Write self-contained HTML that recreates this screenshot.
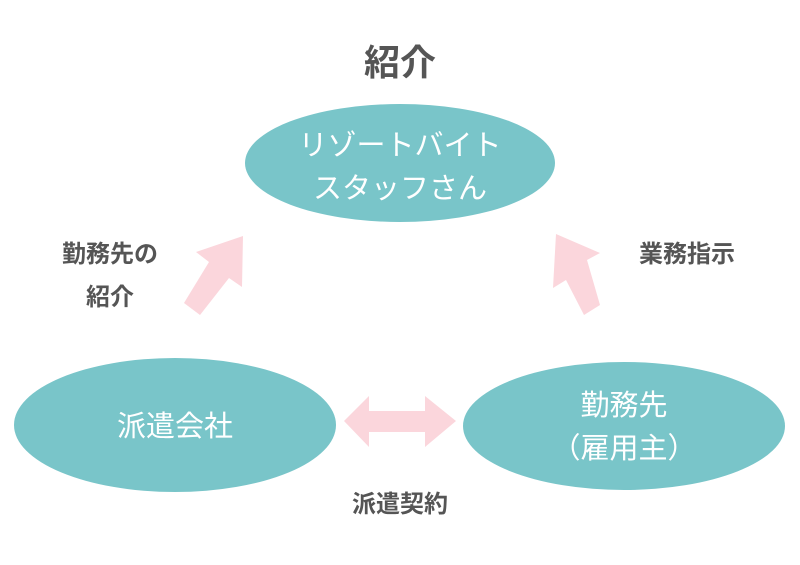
<!DOCTYPE html>
<html><head><meta charset="utf-8"><style>
body{margin:0;background:#fff}
svg text{font-family:"Liberation Sans","Noto Sans CJK JP",sans-serif}
</style></head><body>
<svg width="800" height="560" viewBox="0 0 800 560" xmlns="http://www.w3.org/2000/svg">
<rect width="800" height="560" fill="#fff"/>
<ellipse cx="400" cy="163" rx="155" ry="59" fill="#79c5c9"/>
<ellipse cx="175" cy="425" rx="161" ry="67" fill="#79c5c9"/>
<ellipse cx="624" cy="426" rx="161" ry="64" fill="#79c5c9"/>
<g fill="#fbd6dc">
<polygon points="184,303 200,315 229,278 242,287 243,236 196,252 209,262"/>
<polygon points="600,305 584,315 566,280 553,288 556,234 600,253 587,260"/>
<polygon points="344,421 369,396 369,411 425,411 425,396 456,421 425,447 425,432 369,432 369,447"/>
</g>
<g fill="#555" font-weight="bold" text-anchor="middle">
<text x="400" y="75" font-size="36">紹介</text>
<text x="110" y="262" font-size="24">勤務先の</text>
<text x="110" y="305" font-size="24">紹介</text>
<text x="687" y="262" font-size="24">業務指示</text>
<text x="400" y="512" font-size="24">派遣契約</text>
</g>
<g fill="#fff" font-size="29" text-anchor="middle">
<text x="400" y="155">リゾートバイト</text>
<text x="400" y="198">スタッフさん</text>
<text x="175" y="436">派遣会社</text>
<text x="624" y="415">勤務先</text>
<text x="624" y="458">（雇用主）</text>
</g>
</svg>
</body></html>
